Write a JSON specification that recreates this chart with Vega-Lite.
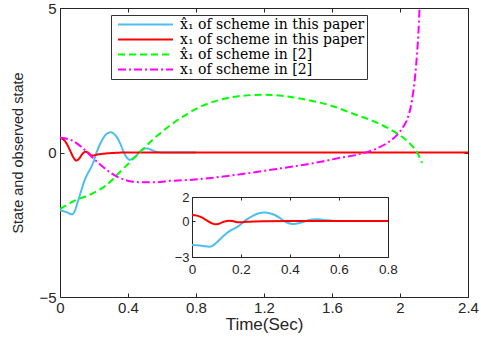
{
  "$schema": "https://vega.github.io/schema/vega-lite/v6.json",
  "width": 408,
  "height": 289,
  "autosize": {"type": "none"},
  "padding": {"left": 60, "top": 8, "right": 13, "bottom": 46},
  "background": "white",
  "config": {
    "view": {"stroke": "#262626", "strokeWidth": 1},
    "axis": {
      "grid": false,
      "labelFont": "Liberation Sans",
      "labelFontSize": 15,
      "labelColor": "#262626",
      "titleFont": "Liberation Sans",
      "titleFontWeight": "normal",
      "titleColor": "#262626",
      "domainColor": "#262626",
      "tickColor": "#262626",
      "labelFlush": false,
      "labelOverlap": false,
      "format": "~g"
    },
    "legend": {
      "orient": "none", "legendX": 51, "legendY": 7, "symbolType": "stroke", "symbolSize": 3025,
      "symbolStrokeWidth": 2, "symbolOffset": 4, "labelFont": "DejaVu Serif", "labelFontSize": 14, "labelColor": "black", "labelLimit": 400,
      "strokeColor": "#333", "fillColor": "white", "padding": 2, "rowPadding": 0, "labelOffset": 6, "clipHeight": 15
    }
  },
  "datasets": {
    "main": [
      {"t": 0, "v": -2.0, "s": "x̂₁ of scheme in this paper"},
      {"t": 0.02, "v": -2.03, "s": "x̂₁ of scheme in this paper"},
      {"t": 0.045, "v": -2.08, "s": "x̂₁ of scheme in this paper"},
      {"t": 0.07, "v": -2.14, "s": "x̂₁ of scheme in this paper"},
      {"t": 0.085, "v": -2.05, "s": "x̂₁ of scheme in this paper"},
      {"t": 0.105, "v": -1.7, "s": "x̂₁ of scheme in this paper"},
      {"t": 0.125, "v": -1.32, "s": "x̂₁ of scheme in this paper"},
      {"t": 0.14, "v": -1.04, "s": "x̂₁ of scheme in this paper"},
      {"t": 0.16, "v": -0.76, "s": "x̂₁ of scheme in this paper"},
      {"t": 0.18, "v": -0.55, "s": "x̂₁ of scheme in this paper"},
      {"t": 0.195, "v": -0.35, "s": "x̂₁ of scheme in this paper"},
      {"t": 0.215, "v": 0.0, "s": "x̂₁ of scheme in this paper"},
      {"t": 0.23, "v": 0.22, "s": "x̂₁ of scheme in this paper"},
      {"t": 0.25, "v": 0.45, "s": "x̂₁ of scheme in this paper"},
      {"t": 0.27, "v": 0.62, "s": "x̂₁ of scheme in this paper"},
      {"t": 0.297, "v": 0.7, "s": "x̂₁ of scheme in this paper"},
      {"t": 0.32, "v": 0.63, "s": "x̂₁ of scheme in this paper"},
      {"t": 0.34, "v": 0.48, "s": "x̂₁ of scheme in this paper"},
      {"t": 0.355, "v": 0.3, "s": "x̂₁ of scheme in this paper"},
      {"t": 0.37, "v": 0.08, "s": "x̂₁ of scheme in this paper"},
      {"t": 0.39, "v": -0.15, "s": "x̂₁ of scheme in this paper"},
      {"t": 0.41, "v": -0.25, "s": "x̂₁ of scheme in this paper"},
      {"t": 0.43, "v": -0.2, "s": "x̂₁ of scheme in this paper"},
      {"t": 0.45, "v": -0.1, "s": "x̂₁ of scheme in this paper"},
      {"t": 0.47, "v": 0.03, "s": "x̂₁ of scheme in this paper"},
      {"t": 0.49, "v": 0.12, "s": "x̂₁ of scheme in this paper"},
      {"t": 0.51, "v": 0.14, "s": "x̂₁ of scheme in this paper"},
      {"t": 0.53, "v": 0.11, "s": "x̂₁ of scheme in this paper"},
      {"t": 0.55, "v": 0.06, "s": "x̂₁ of scheme in this paper"},
      {"t": 0.58, "v": 0.01, "s": "x̂₁ of scheme in this paper"},
      {"t": 0.62, "v": 0, "s": "x̂₁ of scheme in this paper"},
      {"t": 0.8, "v": 0, "s": "x̂₁ of scheme in this paper"},
      {"t": 0, "v": 0.5, "s": "x₁ of scheme in this paper"},
      {"t": 0.02, "v": 0.45, "s": "x₁ of scheme in this paper"},
      {"t": 0.04, "v": 0.3, "s": "x₁ of scheme in this paper"},
      {"t": 0.06, "v": 0.06, "s": "x₁ of scheme in this paper"},
      {"t": 0.08, "v": -0.18, "s": "x₁ of scheme in this paper"},
      {"t": 0.095, "v": -0.28, "s": "x₁ of scheme in this paper"},
      {"t": 0.11, "v": -0.23, "s": "x₁ of scheme in this paper"},
      {"t": 0.13, "v": -0.06, "s": "x₁ of scheme in this paper"},
      {"t": 0.15, "v": 0.03, "s": "x₁ of scheme in this paper"},
      {"t": 0.165, "v": 0.0, "s": "x₁ of scheme in this paper"},
      {"t": 0.185, "v": -0.1, "s": "x₁ of scheme in this paper"},
      {"t": 0.2, "v": -0.1, "s": "x₁ of scheme in this paper"},
      {"t": 0.22, "v": -0.07, "s": "x₁ of scheme in this paper"},
      {"t": 0.26, "v": -0.04, "s": "x₁ of scheme in this paper"},
      {"t": 0.3, "v": -0.02, "s": "x₁ of scheme in this paper"},
      {"t": 0.4, "v": 0, "s": "x₁ of scheme in this paper"},
      {"t": 0.8, "v": 0, "s": "x₁ of scheme in this paper"},
      {"t": 2.4, "v": 0, "s": "x₁ of scheme in this paper"},
      {"t": 0, "v": -1.95, "s": "x̂₁ of scheme in [2]"},
      {"t": 0.09, "v": -1.66, "s": "x̂₁ of scheme in [2]"},
      {"t": 0.19, "v": -1.42, "s": "x̂₁ of scheme in [2]"},
      {"t": 0.27, "v": -1.14, "s": "x̂₁ of scheme in [2]"},
      {"t": 0.36, "v": -0.63, "s": "x̂₁ of scheme in [2]"},
      {"t": 0.46, "v": -0.05, "s": "x̂₁ of scheme in [2]"},
      {"t": 0.56, "v": 0.52, "s": "x̂₁ of scheme in [2]"},
      {"t": 0.65, "v": 0.95, "s": "x̂₁ of scheme in [2]"},
      {"t": 0.75, "v": 1.34, "s": "x̂₁ of scheme in [2]"},
      {"t": 0.84, "v": 1.62, "s": "x̂₁ of scheme in [2]"},
      {"t": 0.94, "v": 1.82, "s": "x̂₁ of scheme in [2]"},
      {"t": 1.04, "v": 1.94, "s": "x̂₁ of scheme in [2]"},
      {"t": 1.2, "v": 2.0, "s": "x̂₁ of scheme in [2]"},
      {"t": 1.33, "v": 1.94, "s": "x̂₁ of scheme in [2]"},
      {"t": 1.47, "v": 1.8, "s": "x̂₁ of scheme in [2]"},
      {"t": 1.59, "v": 1.63, "s": "x̂₁ of scheme in [2]"},
      {"t": 1.72, "v": 1.35, "s": "x̂₁ of scheme in [2]"},
      {"t": 1.88, "v": 0.99, "s": "x̂₁ of scheme in [2]"},
      {"t": 1.98, "v": 0.67, "s": "x̂₁ of scheme in [2]"},
      {"t": 2.06, "v": 0.3, "s": "x̂₁ of scheme in [2]"},
      {"t": 2.1, "v": 0.01, "s": "x̂₁ of scheme in [2]"},
      {"t": 2.13, "v": -0.36, "s": "x̂₁ of scheme in [2]"},
      {"t": 0, "v": 0.51, "s": "x₁ of scheme in [2]"},
      {"t": 0.07, "v": 0.42, "s": "x₁ of scheme in [2]"},
      {"t": 0.13, "v": 0.17, "s": "x₁ of scheme in [2]"},
      {"t": 0.19, "v": -0.17, "s": "x₁ of scheme in [2]"},
      {"t": 0.27, "v": -0.58, "s": "x₁ of scheme in [2]"},
      {"t": 0.34, "v": -0.85, "s": "x₁ of scheme in [2]"},
      {"t": 0.42, "v": -1.0, "s": "x₁ of scheme in [2]"},
      {"t": 0.48, "v": -1.03, "s": "x₁ of scheme in [2]"},
      {"t": 0.56, "v": -1.03, "s": "x₁ of scheme in [2]"},
      {"t": 0.65, "v": -0.98, "s": "x₁ of scheme in [2]"},
      {"t": 0.73, "v": -0.96, "s": "x₁ of scheme in [2]"},
      {"t": 0.84, "v": -0.91, "s": "x₁ of scheme in [2]"},
      {"t": 1.04, "v": -0.77, "s": "x₁ of scheme in [2]"},
      {"t": 1.24, "v": -0.6, "s": "x₁ of scheme in [2]"},
      {"t": 1.43, "v": -0.43, "s": "x₁ of scheme in [2]"},
      {"t": 1.55, "v": -0.3, "s": "x₁ of scheme in [2]"},
      {"t": 1.65, "v": -0.18, "s": "x₁ of scheme in [2]"},
      {"t": 1.73, "v": -0.1, "s": "x₁ of scheme in [2]"},
      {"t": 1.86, "v": 0.13, "s": "x₁ of scheme in [2]"},
      {"t": 1.93, "v": 0.35, "s": "x₁ of scheme in [2]"},
      {"t": 1.98, "v": 0.59, "s": "x₁ of scheme in [2]"},
      {"t": 2.02, "v": 0.9, "s": "x₁ of scheme in [2]"},
      {"t": 2.04, "v": 1.11, "s": "x₁ of scheme in [2]"},
      {"t": 2.07, "v": 1.8, "s": "x₁ of scheme in [2]"},
      {"t": 2.09, "v": 2.7, "s": "x₁ of scheme in [2]"},
      {"t": 2.1, "v": 3.4, "s": "x₁ of scheme in [2]"},
      {"t": 2.108, "v": 4.1, "s": "x₁ of scheme in [2]"},
      {"t": 2.115, "v": 5.0, "s": "x₁ of scheme in [2]"},
      {"t": 2.118, "v": 5.5, "s": "x₁ of scheme in [2]"}
    ]
  },
  "data": {"name": "main"},
  "resolve": {"scale": {"x": "independent", "y": "independent"}, "axis": {"x": "independent", "y": "independent"}},
  "layer": [
    {
      "mark": {"type": "line", "strokeWidth": 2, "interpolate": "monotone", "clip": true},
      "encoding": {
        "x": {"field": "t", "type": "quantitative", "scale": {"domain": [0, 2.4], "nice": false, "zero": false},
          "axis": {"orient": "bottom", "values": [0, 0.4, 0.8, 1.2, 1.6, 2, 2.4], "tickSize": -4, "labelPadding": 7, "domain": false,
            "title": "Time(Sec)", "titleFontSize": 17, "titlePadding": 1}},
        "y": {"field": "v", "type": "quantitative", "scale": {"domain": [-5, 5], "nice": false, "zero": false},
          "axis": {"orient": "left", "values": [-5, 0, 5], "tickSize": -4, "labelPadding": 8, "domain": false,
            "title": "State and observed state", "titleFontSize": 14.5, "titlePadding": 13}},
        "color": {"field": "s", "type": "nominal",
          "scale": {"domain": ["x̂₁ of scheme in this paper", "x₁ of scheme in this paper", "x̂₁ of scheme in [2]", "x₁ of scheme in [2]"],
            "range": ["#4DBEEE", "#FF0000", "#00FF00", "#FF00FF"]},
          "legend": {"title": null}},
        "strokeDash": {"field": "s", "type": "nominal",
          "scale": {"domain": ["x̂₁ of scheme in this paper", "x₁ of scheme in this paper", "x̂₁ of scheme in [2]", "x₁ of scheme in [2]"],
            "range": [[1, 0], [1, 0], [7, 4], [8, 3, 2, 3]]},
          "legend": {"title": null}}
      }
    },
    {
      "mark": {"type": "rule", "opacity": 0},
      "encoding": {
        "x": {"field": "t", "type": "quantitative", "scale": {"domain": [0, 2.4], "nice": false, "zero": false},
          "axis": {"orient": "top", "values": [0, 0.4, 0.8, 1.2, 1.6, 2, 2.4], "tickSize": -4, "labels": false, "domain": false, "title": null}}
      }
    },
    {
      "mark": {"type": "rule", "opacity": 0},
      "encoding": {
        "y": {"field": "v", "type": "quantitative", "scale": {"domain": [-5, 5], "nice": false, "zero": false},
          "axis": {"orient": "right", "values": [-5, 0, 5], "tickSize": -4, "labels": false, "domain": false, "title": null}}
      }
    },
    {
      "transform": [
        {"filter": {"field": "s", "oneOf": ["x̂₁ of scheme in this paper", "x₁ of scheme in this paper"]}},
        {"filter": {"field": "t", "lte": 0.8}}
      ],
      "mark": {"type": "line", "strokeWidth": 2, "interpolate": "monotone"},
      "encoding": {
        "x": {"field": "t", "type": "quantitative", "scale": {"domain": [0, 0.8], "range": [132, 328], "nice": false, "zero": false},
          "axis": {"orient": "bottom", "offset": -40, "values": [0, 0.2, 0.4, 0.6, 0.8], "tickSize": -3, "labelPadding": 8, "labelFontSize": 13.5, "title": null}},
        "y": {"field": "v", "type": "quantitative", "scale": {"domain": [-3, 2], "range": [249, 189], "nice": false, "zero": false},
          "axis": {"orient": "left", "offset": -132, "values": [-3, 0, 2], "tickSize": -3, "labelPadding": 6, "labelFontSize": 13, "title": null}},
        "color": {"field": "s", "type": "nominal",
          "scale": {"domain": ["x̂₁ of scheme in this paper", "x₁ of scheme in this paper", "x̂₁ of scheme in [2]", "x₁ of scheme in [2]"],
            "range": ["#4DBEEE", "#FF0000", "#00FF00", "#FF00FF"]},
          "legend": {"title": null}}
      }
    },
    {
      "transform": [{"filter": {"field": "t", "lte": 0.8}}],
      "mark": {"type": "rule", "opacity": 0},
      "encoding": {
        "x": {"field": "t", "type": "quantitative", "scale": {"domain": [0, 0.8], "range": [132, 328], "nice": false, "zero": false},
          "axis": {"orient": "top", "offset": -189, "values": [0, 0.2, 0.4, 0.6, 0.8], "tickSize": -3, "labels": false, "title": null}}
      }
    },
    {
      "transform": [{"filter": {"field": "v", "range": [-3, 2]}}],
      "mark": {"type": "rule", "opacity": 0},
      "encoding": {
        "y": {"field": "v", "type": "quantitative", "scale": {"domain": [-3, 2], "range": [249, 189], "nice": false, "zero": false},
          "axis": {"orient": "right", "offset": -80, "values": [-3, 0, 2], "tickSize": -3, "labels": false, "title": null}}
      }
    }
  ]
}
